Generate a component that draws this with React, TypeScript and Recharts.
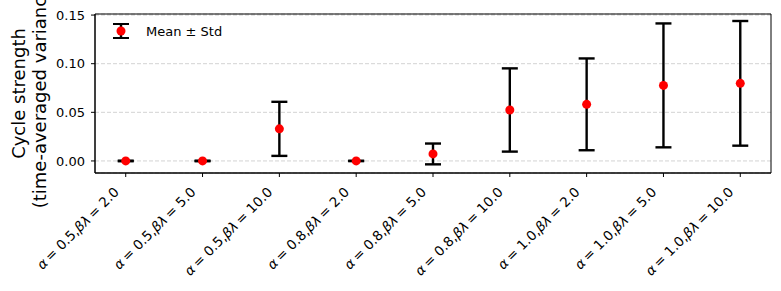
import { ComposedChart, Scatter, ErrorBar, XAxis, YAxis, CartesianGrid, ReferenceArea } from "recharts";

const alphas = ["0.5", "0.5", "0.5", "0.8", "0.8", "0.8", "1.0", "1.0", "1.0"];
const betaLambdas = ["2.0", "5.0", "10.0", "2.0", "5.0", "10.0", "2.0", "5.0", "10.0"];
const means = [0.0, 0.0, 0.033, 0.0, 0.0072, 0.0524, 0.0582, 0.0777, 0.0798];
const stds = [0.0003, 0.0003, 0.0278, 0.0002, 0.0107, 0.0428, 0.0472, 0.0637, 0.0641];
const yTicks = [0, 0.05, 0.1, 0.15];

const data = means.map((m, i) => ({ idx: i, mean: m, std: stds[i] }));

const FONT = "'DejaVu Sans', sans-serif";

function CategoryTick(props: any) {
  const { x, y, payload } = props;
  const i = payload.value as number;
  if (i < 0 || i >= alphas.length) return null;
  return (
    <g transform={`translate(${x - 6},${y + 16}) rotate(-45)`}>
      <text textAnchor="end" fontFamily={FONT} fontSize={13.5} fill="#000">
        <tspan fontStyle="italic">α</tspan>
        {`\u2009= ${alphas[i]},`}
        <tspan fontStyle="italic">βλ</tspan>
        {`\u2009= ${betaLambdas[i]}`}
      </text>
    </g>
  );
}

function YLabel(props: any) {
  const vb = props.viewBox;
  const cy = vb.y + vb.height / 2;
  return (
    <g fontFamily={FONT} fontSize={18} fill="#000">
      <text transform={`translate(25,${cy}) rotate(-90)`} textAnchor="middle">
        Cycle strength
      </text>
      <text transform={`translate(46,${cy}) rotate(-90)`} textAnchor="middle">
        (time-averaged variance)
      </text>
    </g>
  );
}

function Legend() {
  return (
    <div style={{ position: "absolute", left: 105, top: 18, display: "flex", alignItems: "center", fontFamily: FONT, fontSize: 13 }}>
      <svg width={32} height={26}>
        <line x1={16} y1={6} x2={16} y2={20} stroke="#000" strokeWidth={2.4} />
        <line x1={8} y1={6} x2={24} y2={6} stroke="#000" strokeWidth={2} />
        <line x1={8} y1={20} x2={24} y2={20} stroke="#000" strokeWidth={2} />
        <circle cx={16} cy={13} r={4.5} fill="#ff0000" />
      </svg>
      <span style={{ marginLeft: 9 }}>Mean ± Std</span>
    </div>
  );
}

export default function App() {
  return (
    <div style={{ position: "absolute", left: 0, top: 0, width: 781, height: 291, background: "#fff" }}>
      <ComposedChart width={781} height={291} data={data} margin={{ top: 14, right: 10, left: 0, bottom: 0 }}>
        <CartesianGrid vertical={false} stroke="#d3d3d3" strokeDasharray="4 2" />
        <XAxis
          type="number"
          dataKey="idx"
          domain={[-0.4, 8.4]}
          ticks={[0, 1, 2, 3, 4, 5, 6, 7, 8]}
          allowDataOverflow
          height={118}
          tickSize={4}
          tickMargin={0}
          stroke="#000"
          tick={<CategoryTick />}
        />
        <YAxis
          type="number"
          domain={[-0.0124, 0.1511]}
          ticks={yTicks}
          allowDataOverflow
          width={95}
          tickSize={4}
          tickMargin={6}
          stroke="#000"
          tick={{ fontFamily: FONT, fontSize: 13, fill: "#000" }}
          tickFormatter={(v: number) => v.toFixed(2)}
          label={{ content: <YLabel /> }}
        />
        <ReferenceArea x1={-0.4} x2={8.4} y1={-0.0124} y2={0.1511} fill="none" stroke="#000" strokeWidth={1} ifOverflow="visible" />
        <Scatter
          dataKey="mean"
          isAnimationActive={false}
          shape={(p: any) => <circle cx={p.cx} cy={p.cy} r={4.5} fill="#ff0000" />}
        >
          <ErrorBar dataKey="std" direction="y" width={8} strokeWidth={2.4} stroke="#000" isAnimationActive={false} />
        </Scatter>
      </ComposedChart>
      <Legend />
    </div>
  );
}
